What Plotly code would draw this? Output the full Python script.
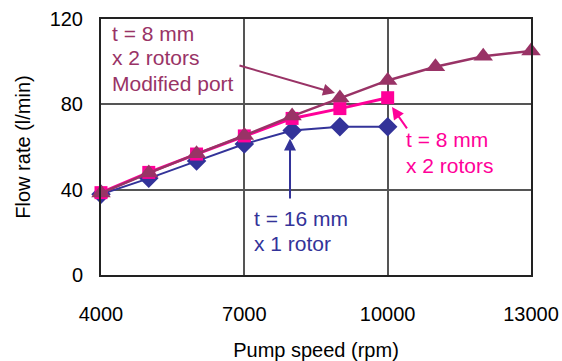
import plotly.graph_objects as go

speed_16mm = [4000, 5000, 6000, 7000, 8000, 9000, 10000]
flow_16mm = [37.8, 45.3, 53.4, 61.4, 67.7, 69.5, 69.5]

speed_8mm = [4000, 5000, 6000, 7000, 8000, 9000, 10000]
flow_8mm = [38.6, 48.1, 56.7, 65.2, 73.4, 78.0, 83.1]

speed_mod = [4000, 5000, 6000, 7000, 8000, 9000, 10000, 11000, 12000, 13000]
flow_mod = [38.4, 47.8, 56.8, 65.4, 74.5, 83.0, 91.2, 97.6, 102.5, 105.0]

x_ticks = [4000, 7000, 10000, 13000]
x_tick_labels = ["4000", "7000", "10000", "13000"]
y_ticks = [0, 40, 80, 120]
y_tick_labels = ["0", "40", "80", "120"]

label_mod = ["t = 8 mm", "x 2 rotors", "Modified port"]
label_8mm = ["t = 8 mm", "x 2 rotors"]
label_16mm = ["t = 16 mm", "x 1 rotor"]

BLUE = "#333399"
PINK = "#FF0099"
PURPLE = "#993366"
FONT = "Liberation Sans, Arial, sans-serif"

fig = go.Figure()
fig.add_trace(go.Scatter(x=speed_16mm, y=flow_16mm, mode="lines+markers", cliponaxis=False,
                         line=dict(color=BLUE, width=2),
                         marker=dict(symbol="diamond", size=15, color=BLUE)))
fig.add_trace(go.Scatter(x=speed_8mm, y=flow_8mm, mode="lines+markers", cliponaxis=False,
                         line=dict(color=PINK, width=3),
                         marker=dict(symbol="square", size=13, color=PINK)))
fig.add_trace(go.Scatter(x=speed_mod, y=flow_mod, mode="lines+markers", cliponaxis=False,
                         line=dict(color=PURPLE, width=2.5),
                         marker=dict(symbol="triangle-up", size=17, color=PURPLE)))

def arrow(x, y, ax, ay, color):
    fig.add_annotation(x=x, y=y, ax=ax, ay=ay, xref="x", yref="y", axref="x", ayref="y",
                       text="", showarrow=True, arrowhead=2, arrowsize=1.2,
                       arrowwidth=2, arrowcolor=color)

arrow(8898, 85.3, 6867, 98.4, PURPLE)
arrow(10091, 78.7, 10426, 68.0, PINK)
arrow(7956, 64.0, 7956, 35.2, BLUE)

def label(x, ys, lines, color):
    for y, t in zip(ys, lines):
        fig.add_annotation(x=x, y=y, xref="x", yref="y", text=t, showarrow=False,
                           xanchor="left", yanchor="middle", align="left",
                           font=dict(family=FONT, size=21, color=color))

label(4188, [113.4, 102.0, 89.8], label_mod, PURPLE)
label(10342, [63.3, 51.1], label_8mm, PINK)
label(7160, [26.7, 15.0], label_16mm, BLUE)

fig.update_layout(
    width=562, height=361,
    margin=dict(l=101, r=31, t=19, b=86),
    paper_bgcolor="white", plot_bgcolor="white",
    showlegend=False,
    font=dict(family=FONT, size=20, color="black"),
)
fig.update_xaxes(range=[4000, 13000], tickvals=x_ticks, ticktext=x_tick_labels, showgrid=True,
                 gridcolor="#555555", gridwidth=1.5, showline=True, linecolor="#222222",
                 linewidth=2, mirror=True, ticks="", ticklabelstandoff=20, zeroline=False,
                 automargin=False,
                 tickfont=dict(family=FONT, size=20, color="black"),
                 title=dict(text="Pump speed (rpm)", standoff=24,
                            font=dict(family=FONT, size=20, color="black")))
fig.update_yaxes(range=[0, 120], tickvals=y_ticks, ticktext=y_tick_labels, showgrid=True,
                 gridcolor="#555555", gridwidth=1.5, showline=True, linecolor="#222222",
                 linewidth=2, mirror=True, ticks="", ticklabelstandoff=12, zeroline=False,
                 automargin=False,
                 tickfont=dict(family=FONT, size=20, color="black"),
                 title=dict(text="Flow rate (l/min)", standoff=14,
                            font=dict(family=FONT, size=20, color="black")))

fig.write_html("out.html")
